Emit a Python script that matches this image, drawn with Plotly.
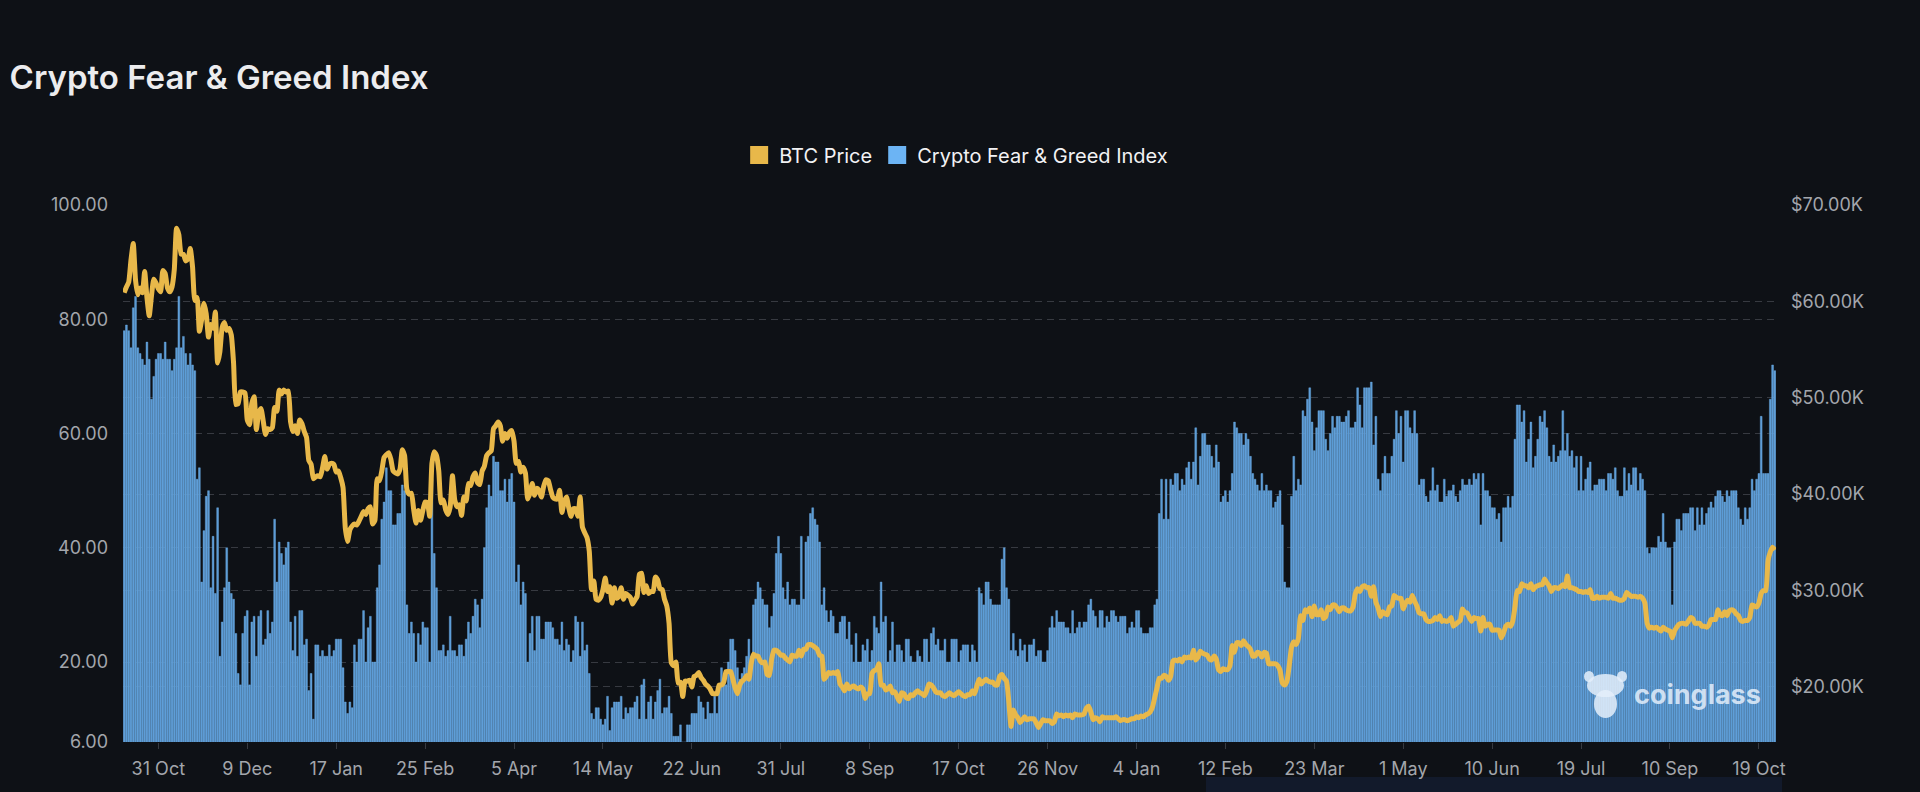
import pandas as pd
import plotly.graph_objects as go

# ---------------- data ----------------
start_day = "2021-10-16"
end_day = "2023-10-26"
skipped_days = [
    "2022-11-24", "2023-05-20",
    "2023-08-23", "2023-08-24", "2023-08-25", "2023-08-26", "2023-08-27",
    "2023-08-28", "2023-08-29", "2023-08-30", "2023-08-31",
    "2023-09-01", "2023-09-02", "2023-09-03", "2023-09-04", "2023-09-05",
]

tick_dates = ["2021-10-31", "2021-12-09", "2022-01-17", "2022-02-25", "2022-04-05",
              "2022-05-14", "2022-06-22", "2022-07-31", "2022-09-08", "2022-10-17",
              "2022-11-26", "2023-01-04", "2023-02-12", "2023-03-23", "2023-05-01",
              "2023-06-10", "2023-07-19", "2023-09-10", "2023-10-19"]
tick_text = ["31 Oct", "9 Dec", "17 Jan", "25 Feb", "5 Apr", "14 May", "22 Jun",
             "31 Jul", "8 Sep", "17 Oct", "26 Nov", "4 Jan", "12 Feb", "23 Mar",
             "1 May", "10 Jun", "19 Jul", "10 Sep", "19 Oct"]

fg_ticks = [6, 20, 40, 60, 80, 100]
price_ticks_k = [20, 30, 40, 50, 60, 70]
price_tick_text = ["$20.00K", "$30.00K", "$40.00K", "$50.00K", "$60.00K", "$70.00K"]

# BTC price, thousands of USD, one value per listed day
btc_price_k = [
    # 2021-10 (16-31)
    60.9, 61.5, 62.0, 64.3, 66.0, 62.2, 60.7, 61.4, 60.9, 63.1, 60.4, 58.5, 60.6, 62.3, 61.9, 61.3,
    # 2021-11
    61.0, 63.2, 62.9, 61.4, 61.0, 61.5, 63.3, 67.6, 66.9, 64.9, 64.9, 64.2, 64.4, 65.5, 63.6,
    60.1, 60.4, 56.9, 58.1, 59.8, 58.7, 56.3, 57.6, 57.2, 58.9, 53.6, 54.8, 57.3, 57.8, 57.0,
    # 2021-12
    57.2, 56.5, 53.6, 49.3, 49.4, 50.6, 50.6, 50.5, 47.7, 47.2, 49.4, 50.1, 46.7, 48.4, 48.9,
    47.6, 46.2, 46.8, 46.7, 46.9, 49.0, 48.6, 50.8, 50.4, 50.8, 50.6, 50.7, 47.5, 46.5, 47.1, 46.3,
    # 2022-01
    47.7, 47.3, 46.5, 45.9, 43.5, 43.1, 41.6, 41.8, 41.9, 41.8, 42.7, 43.9, 42.6, 43.1, 43.2,
    43.1, 42.3, 42.4, 41.7, 40.7, 36.5, 35.1, 36.3, 36.7, 36.9, 36.8, 37.2, 37.7, 38.2, 37.9, 38.5,
    # 2022-02
    38.7, 36.9, 37.3, 41.6, 41.4, 42.4, 43.8, 44.1, 44.3, 43.6, 42.4, 42.2, 42.1, 42.6,
    44.6, 44.0, 40.5, 40.0, 40.1, 38.4, 37.0, 38.3, 37.3, 38.3, 39.2, 39.1, 37.7, 43.2,
    # 2022-03
    44.4, 44.0, 42.4, 39.1, 39.4, 38.4, 37.9, 38.7, 41.9, 39.4, 38.7, 38.9, 37.8, 39.7, 39.3,
    41.1, 40.9, 41.8, 42.2, 41.2, 41.0, 42.4, 42.9, 44.0, 44.3, 44.5, 46.8, 47.1, 47.5, 47.1, 45.5,
    # 2022-04
    46.3, 45.8, 46.4, 46.6, 45.5, 43.2, 43.4, 42.3, 42.8, 42.2, 39.5, 40.1, 41.1, 39.9, 40.6,
    40.4, 39.7, 40.8, 41.5, 41.4, 40.5, 39.7, 39.5, 39.5, 40.4, 38.1, 39.2, 39.7, 38.6, 37.7,
    # 2022-05
    38.5, 38.5, 37.7, 39.7, 36.6, 36.0, 35.5, 34.1, 30.1, 31.0, 29.1, 29.0, 29.3, 30.1, 31.3,
    29.9, 30.4, 28.7, 30.3, 29.2, 29.4, 30.3, 29.1, 29.7, 29.5, 29.3, 28.6, 29.0, 29.4, 31.7, 31.8,
    # 2022-06
    29.8, 30.5, 29.7, 29.9, 29.9, 31.4, 31.1, 30.2, 30.1, 29.1, 28.4, 26.6, 22.5, 22.2, 22.6,
    20.4, 20.5, 19.0, 20.6, 20.6, 20.7, 20.0, 21.1, 21.2, 21.5, 21.0, 20.7, 20.3, 20.1, 19.8,
    # 2022-07
    19.3, 19.3, 19.3, 20.2, 20.2, 20.5, 21.6, 21.6, 21.6, 20.8, 19.9, 19.3, 20.2, 20.6, 20.8,
    21.2, 20.8, 22.4, 23.4, 23.2, 23.2, 22.7, 22.5, 22.6, 21.3, 21.2, 22.9, 23.8, 23.8, 23.6, 23.3,
    # 2022-08
    23.3, 23.0, 22.8, 22.6, 23.3, 23.2, 23.2, 23.8, 23.2, 23.9, 23.9, 24.4, 24.4, 24.3, 24.1,
    23.9, 23.3, 23.2, 20.8, 21.1, 21.5, 21.4, 21.5, 21.4, 21.6, 20.3, 20.0, 19.6, 20.3, 19.8, 20.0,
    # 2022-09
    20.1, 19.9, 19.8, 20.0, 19.8, 18.8, 19.3, 19.3, 21.4, 21.7, 21.8, 22.4, 20.2, 20.2, 19.7,
    19.8, 20.1, 19.4, 19.5, 19.0, 18.5, 19.4, 19.3, 18.9, 18.8, 19.2, 19.1, 19.4, 19.6, 19.4,
    # 2022-10
    19.3, 19.1, 19.6, 20.3, 20.2, 19.9, 19.5, 19.4, 19.4, 19.1, 19.0, 19.2, 19.4, 19.2, 19.1,
    19.3, 19.5, 19.3, 19.1, 19.0, 19.2, 19.2, 19.6, 19.3, 20.1, 20.8, 20.3, 20.6, 20.8, 20.6, 20.5,
    # 2022-11
    20.5, 20.2, 20.2, 21.1, 21.3, 20.9, 20.6, 18.5, 15.9, 17.6, 17.1, 16.8, 16.3, 16.6, 16.9,
    16.6, 16.7, 16.7, 16.7, 16.3, 15.8, 16.2, 16.6, 16.5, 16.5, 16.5, 16.2, 16.4, 17.2,
    # 2022-12
    17.0, 17.1, 16.9, 17.1, 17.0, 17.1, 16.8, 17.2, 17.1, 17.1, 17.1, 17.2, 17.8, 18.0, 17.4,
    16.6, 16.8, 16.7, 16.4, 16.9, 16.8, 16.8, 16.8, 16.8, 16.8, 16.9, 16.7, 16.5, 16.6, 16.6, 16.5,
    # 2023-01
    16.6, 16.7, 16.7, 16.9, 16.8, 17.0, 16.9, 17.1, 17.2, 17.4, 17.9, 18.9, 19.9, 20.9, 20.9,
    21.2, 21.1, 20.7, 21.1, 22.7, 22.8, 22.7, 22.9, 22.6, 23.1, 23.0, 23.1, 23.0, 23.8, 22.8, 23.1,
    # 2023-02
    23.7, 23.5, 23.4, 23.3, 22.9, 22.8, 23.2, 22.9, 21.8, 21.6, 21.9, 21.8, 21.8, 22.2,
    24.3, 23.6, 24.6, 24.6, 24.3, 24.8, 24.4, 24.2, 23.9, 23.2, 23.2, 23.6, 23.5, 23.1,
    # 2023-03
    23.6, 23.5, 22.4, 22.4, 22.4, 22.4, 22.2, 21.7, 20.4, 20.2, 20.6, 22.2, 24.1, 24.7, 24.4,
    25.0, 27.4, 26.9, 28.0, 27.8, 28.2, 27.3, 28.4, 27.5, 27.5, 28.0, 27.1, 27.3, 28.3, 28.0, 28.5,
    # 2023-04
    28.5, 28.2, 27.8, 28.2, 28.2, 28.0, 27.9, 27.9, 28.3, 29.7, 30.2, 29.9, 30.4, 30.5, 30.3,
    30.3, 29.4, 30.4, 28.8, 28.2, 27.3, 27.8, 27.6, 27.5, 28.3, 28.4, 29.5, 29.3, 29.2, 29.2,
    # 2023-05
    28.1, 28.7, 29.0, 28.8, 29.5, 28.9, 28.4, 27.7, 27.6, 27.6, 27.0, 26.8, 26.8, 26.9, 27.2,
    27.0, 27.4, 26.8, 26.9, 26.8, 26.9, 27.2, 26.3, 26.5, 26.7, 26.9, 28.1, 27.7, 27.7, 27.2,
    # 2023-06
    26.8, 27.2, 27.1, 27.1, 25.8, 27.2, 26.3, 26.5, 26.5, 25.9, 25.9, 25.9, 25.9, 25.1, 25.6,
    26.3, 26.5, 26.3, 26.8, 28.3, 30.0, 29.9, 30.7, 30.5, 30.5, 30.3, 30.7, 30.1, 30.4, 30.5,
    # 2023-07
    30.6, 30.6, 31.2, 30.8, 30.5, 29.9, 30.3, 30.3, 30.2, 30.4, 30.6, 30.4, 31.5, 30.3, 30.3,
    30.2, 30.1, 29.9, 29.9, 29.8, 29.9, 29.8, 30.1, 29.2, 29.2, 29.4, 29.2, 29.3, 29.3, 29.3, 29.2,
    # 2023-08
    29.7, 29.2, 29.2, 29.1, 29.0, 29.0, 29.2, 29.8, 29.6, 29.4, 29.4, 29.4, 29.3, 29.4, 29.2,
    28.7, 26.6, 26.1, 26.2, 26.1, 26.2, 26.0,
    # 2023-09
    25.8, 26.2, 26.0, 25.9, 25.8, 25.1, 25.8, 26.2, 26.5, 26.6, 26.6, 26.5, 26.8, 27.2, 27.1,
    26.6, 26.6, 26.6, 26.3, 26.3, 26.2, 26.4, 27.0, 27.0, 27.0,
    # 2023-10
    28.0, 27.5, 27.4, 27.8, 27.4, 27.9, 28.0, 27.9, 27.6, 27.4, 26.9, 26.8, 26.9, 26.9, 27.2,
    28.5, 28.4, 28.3, 28.7, 29.7, 30.0, 30.0, 33.1, 34.0, 34.5, 34.2,
]

# Crypto Fear & Greed Index, one value per listed day
fear_greed = [
    78, 79, 78, 75, 82, 84, 75, 74, 73, 72, 76, 73, 66, 70, 73, 74, 74, 73, 76, 73,
    73, 71, 73, 75, 84, 75, 77, 74, 72, 74, 72, 71, 52, 54, 34, 43, 49, 50, 33, 42,
    32, 47, 21, 27, 33, 40, 34, 32, 31, 25, 18, 16, 25, 28, 29, 16, 27, 28, 21, 28,
    29, 23, 24, 29, 25, 27, 45, 34, 41, 39, 37, 40, 41, 27, 22, 28, 21, 29, 29, 23,
    24, 15, 18, 10, 23, 23, 21, 22, 21, 21, 23, 21, 22, 24, 24, 24, 19, 13, 11, 13,
    12, 23, 20, 24, 24, 29, 20, 26, 28, 20, 20, 33, 37, 45, 48, 54, 50, 50, 44, 44,
    46, 46, 51, 50, 30, 25, 27, 25, 20, 25, 23, 27, 26, 26, 20, 52, 39, 33, 22, 22,
    23, 21, 22, 28,
    22, 22, 21, 23, 23, 21, 24, 27, 25, 28, 31, 30,
    26, 31, 40, 47, 51, 49, 56, 55, 55, 50, 50, 52, 48, 52, 53, 48, 34, 37, 30, 34,
    32, 20, 25, 28, 22, 28, 28, 24, 24, 27, 27,
    27, 26, 24, 24, 23, 27, 22, 24, 23, 20, 22, 28, 27, 21, 27, 22, 23, 18, 11, 10,
    12, 12, 10, 9, 10, 14, 8, 12, 13, 13, 13, 14, 10, 12, 11, 12, 12, 13, 14, 10,
    16, 17, 10, 13, 14, 10, 13, 15, 17, 11, 12, 12, 14, 11, 7, 7, 7, 9, 6, 6,
    9, 9, 11, 11, 11, 14, 13, 12, 10, 13, 11, 11, 14, 11, 16, 19, 17, 16, 20, 24,
    24, 22, 19, 17, 18, 19, 21, 24, 21, 30, 31, 34, 33, 31, 30, 30, 26, 28, 32, 39,
    42, 39, 33,
    31, 34, 30, 31, 31, 30, 30, 42, 31, 41, 42, 46, 47, 45, 44, 41, 30, 33, 29, 27,
    29, 28, 25, 25, 27, 28, 28, 24, 27, 23, 20, 25, 20, 20, 23, 22, 24, 20, 22, 28,
    26, 25, 34, 27, 28, 20, 22, 27, 20, 23, 23, 22, 20, 24, 24, 21, 20, 20, 22, 21,
    20, 24, 24, 20, 25, 26, 23, 24, 22, 22, 24, 20, 20, 24, 24, 24, 20, 22, 23, 23,
    23, 20, 23, 22, 20, 33, 32, 30, 34, 34, 31, 30, 30, 30, 30, 38, 40, 33, 31, 22,
    25, 22, 21, 24, 22, 23, 20, 23, 23, 24, 21, 22, 22, 20, 20, 22, 26, 28, 26, 29,
    27, 27, 27, 26, 26, 25, 29, 25, 26, 27, 26, 27, 27, 30, 31, 29, 28, 26, 29, 29,
    26, 28, 27, 29, 29, 28, 27,
    28, 28, 28, 25, 26, 27, 26, 29, 29, 26, 25, 25, 25, 26, 26, 30, 31, 46, 52, 45,
    52, 45, 52, 51, 53, 53, 50, 52, 51, 54, 55, 52, 55, 61, 51, 56, 60, 60, 58, 58,
    56, 54, 58, 55, 48, 49, 50, 48, 50, 53, 62, 61, 60, 60, 58, 60, 59, 56, 53, 52,
    51, 50, 53, 50, 51, 50, 50, 47, 48, 49, 50, 44, 34, 33, 33, 49, 56, 50, 52, 51,
    64, 63, 66, 68, 62, 57, 61, 64, 64, 64, 59, 57, 60, 63, 61, 63, 63, 62, 62, 63,
    64, 61, 61, 62, 68, 65, 61, 68, 68, 68, 69, 58, 63, 52, 50, 53, 56, 53, 53, 56,
    59, 64, 60, 63, 55, 64, 64, 61, 60, 64, 60, 51, 52, 52, 49, 48, 50, 54, 50,
    51, 48, 48, 52, 49,
    50, 50, 51, 49, 48, 50, 52, 51, 51, 52, 51, 53, 52, 53, 44, 53, 50, 50, 49, 47,
    47, 45, 46, 41, 47, 47, 49, 47, 49, 59, 65, 65, 62, 64, 55, 59, 62, 54, 56, 59,
    63, 62, 64, 61, 56, 55, 58, 55, 56, 57, 64, 57, 60, 56, 57, 54, 56, 50, 56, 50,
    52, 54, 55, 50, 51, 51, 52, 52, 52, 50, 53, 53, 52, 54, 50, 49, 49, 54, 50, 53,
    51, 54, 54, 50, 53, 52, 50, 40, 39, 40, 40, 40, 42, 41, 46, 41, 40, 40, 30, 41,
    45, 45, 43, 46, 46, 46, 47, 47, 43, 47, 44, 47, 44, 46, 47, 48, 47, 49, 50, 50,
    49, 48, 50, 49, 50, 50, 50, 47, 45, 44, 47, 45, 47, 52, 50, 52, 53, 63, 53, 53,
    53, 66, 72, 71,
]

dates = [d.strftime("%Y-%m-%d") for d in pd.date_range(start_day, end_day)
         if d.strftime("%Y-%m-%d") not in skipped_days]
assert len(dates) == len(btc_price_k) == len(fear_greed), (len(dates), len(btc_price_k), len(fear_greed))

# ---------------- style ----------------
BG = "#0e1116"
GOLD = "#e8b84a"
BAR = "#5c9bd5"
BAR_EDGE = "#72b3ee"
LEGEND_BLUE = "#6cb4f4"
GRID = "#373a41"
TICK = "#a3a6ac"
LOGO = "rgba(228,238,250,0.85)"
FONT = "Inter"

# plot area in pixels (for placing paper-referenced decorations)
PL, PR, PT, PB = 123, 1776, 205, 742
PW, PH = PR - PL, PB - PT


def px(x):
    return (x - PL) / PW


def py(y):
    return (PB - y) / PH


fig = go.Figure()
fig.add_trace(go.Bar(
    x=dates, y=fear_greed, name="Crypto Fear & Greed Index", showlegend=False,
    marker=dict(color=BAR, line=dict(color=BAR_EDGE, width=0.4)), yaxis="y",
))
fig.add_trace(go.Scatter(
    x=dates, y=btc_price_k, name="BTC Price", showlegend=False, mode="lines",
    line=dict(color=GOLD, width=5, shape="spline", smoothing=0.5), yaxis="y2",
))
# legend entries (square swatches)
fig.add_trace(go.Scatter(x=[None], y=[None], mode="markers", name="BTC Price",
                         marker=dict(symbol="square", size=16, color=GOLD,
                                     line=dict(color=GOLD, width=2))))
fig.add_trace(go.Scatter(x=[None], y=[None], mode="markers", name="Crypto Fear & Greed Index",
                         marker=dict(symbol="square", size=16, color=LEGEND_BLUE,
                                     line=dict(color=LEGEND_BLUE, width=2))))

# watermark mascot (simple silhouette)
logo_shapes = [
    dict(type="circle", xref="paper", yref="paper", x0=px(1587), x1=px(1624), y0=py(697), y1=py(674),
         fillcolor=LOGO, line=dict(width=0), layer="above"),
    dict(type="circle", xref="paper", yref="paper", x0=px(1584), x1=px(1594), y0=py(682), y1=py(671),
         fillcolor=LOGO, line=dict(width=0), layer="above"),
    dict(type="circle", xref="paper", yref="paper", x0=px(1617), x1=px(1627), y0=py(682), y1=py(671),
         fillcolor=LOGO, line=dict(width=0), layer="above"),
    dict(type="circle", xref="paper", yref="paper", x0=px(1594), x1=px(1617), y0=py(718), y1=py(690),
         fillcolor=LOGO, line=dict(width=0), layer="above"),
]

axis_font = dict(family=FONT, size=18, color=TICK)
fig.update_layout(
    width=1920, height=792,
    margin=dict(l=PL, r=1920 - PR, t=PT, b=792 - PB),
    paper_bgcolor=BG, plot_bgcolor=BG,
    bargap=0.2,
    title=dict(text="Crypto Fear & Greed Index", xref="container", yref="container",
               x=0.005, xanchor="left", y=1 - 77 / 792, yanchor="middle",
               font=dict(family=FONT, size=33, color="#ececee", weight=600)),
    legend=dict(orientation="h", xref="container", yref="container",
                x=0.498, xanchor="center", y=1 - 155 / 792, yanchor="middle",
                font=dict(family=FONT, size=20, color="#f2f2f4"),
                bgcolor="rgba(0,0,0,0)", itemclick=False, itemdoubleclick=False),
    xaxis=dict(type="category", range=[-0.5, len(dates) - 0.5],
               tickmode="array", tickvals=tick_dates, ticktext=tick_text,
               tickfont=axis_font, ticks="outside", ticklen=6, tickcolor=GRID,
               ticklabelstandoff=4,
               showgrid=False, zeroline=False, showline=False),
    yaxis=dict(range=[6, 100], tickmode="array", tickvals=fg_ticks, tickformat=".2f",
               tickfont=axis_font, showgrid=True, gridcolor=GRID, griddash="7px,5px",
               gridwidth=1, zeroline=False, showline=False, ticklabelstandoff=14),
    yaxis2=dict(range=[14.29, 70], overlaying="y", side="right", tickmode="array",
                tickvals=price_ticks_k, ticktext=price_tick_text, tickfont=axis_font,
                showgrid=True, gridcolor=GRID, griddash="7px,5px", gridwidth=1,
                zeroline=False, showline=False, ticklabelstandoff=14),
    annotations=[dict(text="<b>coinglass</b>", xref="paper", yref="paper",
                      x=px(1763), xanchor="right", y=py(694), yanchor="middle",
                      showarrow=False,
                      font=dict(family=FONT, size=27, color=LOGO))],
    shapes=[dict(type="rect", xref="paper", yref="paper",
                 x0=px(1206), x1=px(1782), y0=py(792), y1=py(777),
                 fillcolor="#121a2b", line=dict(width=0), layer="below")] + logo_shapes,
)

fig.write_html(
    "out.html",
    config={"displayModeBar": False},
    post_script="document.body.style.margin='0';document.body.style.background='%s';"
                "document.body.style.overflow='hidden';" % BG,
)
